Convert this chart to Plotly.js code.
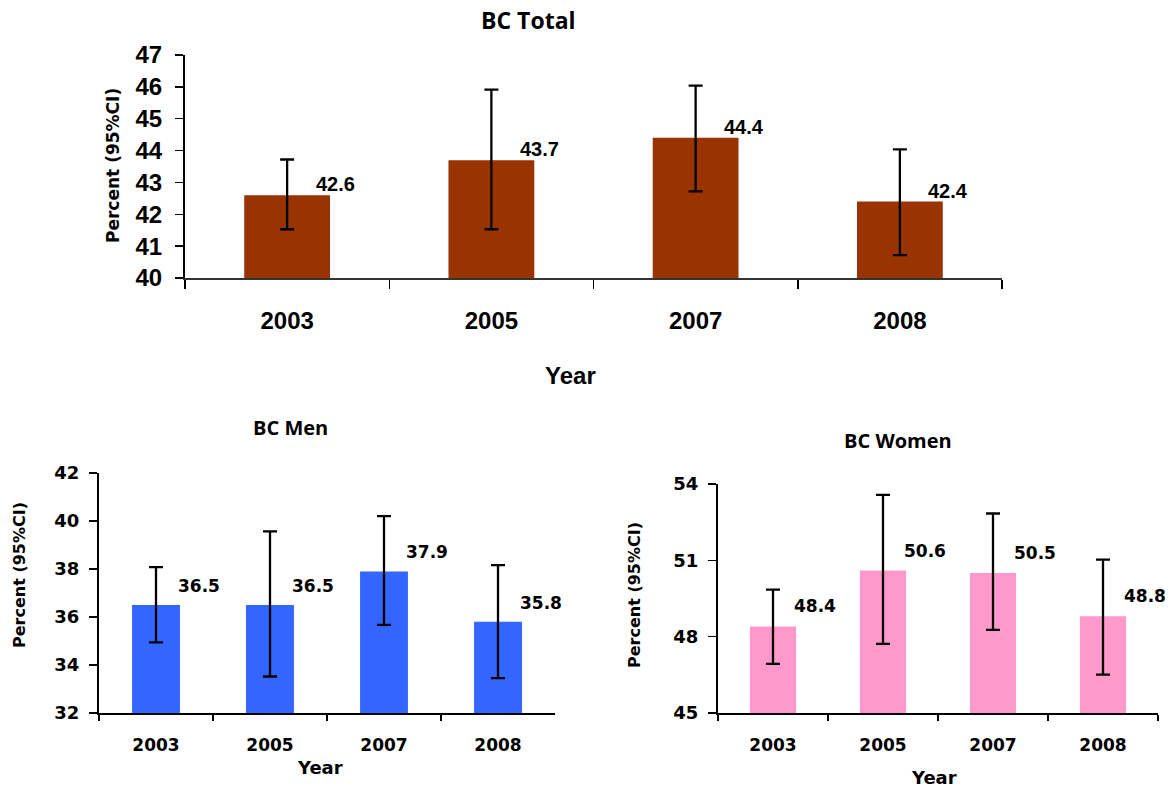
<!DOCTYPE html>
<html>
<head>
<meta charset="utf-8">
<script src="https://cdn.plot.ly/plotly-3.0.1.min.js"></script>
<style>html,body{margin:0;padding:0;background:#fff;}#chart{width:1170px;height:790px;}</style>
</head>
<body>
<div id="chart"></div>
<script>
// ---- data ----
const years = ["2003", "2005", "2007", "2008"];

const totalValues = [42.6, 43.7, 44.4, 42.4];
const totalUpper  = [43.72, 45.91, 46.04, 44.04];
const totalLower  = [41.53, 41.53, 42.72, 40.72];

const menValues = [36.5, 36.5, 37.9, 35.8];
const menUpper  = [38.08, 39.57, 40.20, 38.16];
const menLower  = [34.94, 33.52, 35.67, 33.45];

const womenValues = [48.4, 50.6, 50.5, 48.8];
const womenUpper  = [49.85, 53.57, 52.84, 51.03];
const womenLower  = [46.93, 47.72, 48.27, 46.51];

const titles = ["BC Total", "BC Men", "BC Women"];
const xTitle = "Year";
const yTitle = "Percent (95%CI)";

// ---- helpers ----
const W = 1170, H = 790;
const px = v => v / W;
const py = v => 1 - v / H;

function barTrace(vals, up, lo, color, xa, ya, capw) {
  return {
    type: "bar", x: years, y: vals, xaxis: xa, yaxis: ya,
    marker: {color: color, line: {width: 0}},
    hoverinfo: "x+y",
    error_y: {
      type: "data", symmetric: false,
      array: vals.map((v, i) => up[i] - v),
      arrayminus: vals.map((v, i) => v - lo[i]),
      color: "#000", thickness: 2.3, width: capw, visible: true
    }
  };
}

const data = [
  barTrace(totalValues, totalUpper, totalLower, "#993300", "x", "y", 7),
  barTrace(menValues, menUpper, menLower, "#3366FF", "x2", "y2", 7),
  barTrace(womenValues, womenUpper, womenLower, "#FF99CC", "x3", "y3", 7)
];

const FT = "Liberation Sans, Arial, sans-serif";
const FD = "DejaVu Sans, Verdana, sans-serif";
const FO = "Open Sans, sans-serif";

function xAxis(domain, anchor, font, size, standoff, ticklen, lineColor) {
  return {
    domain: domain, anchor: anchor, type: "category", range: [-0.5, 3.5],
    showgrid: false, zeroline: false, showline: true, linecolor: lineColor, linewidth: 2,
    ticks: "outside", tickson: "boundaries", ticklen: ticklen, tickwidth: 1.5, tickcolor: "#000",
    tickfont: {family: font, size: size, color: "#000", weight: "bold"},
    ticklabelstandoff: standoff, fixedrange: true
  };
}
function yAxis(domain, anchor, range, dtick, font, size, standoff) {
  return {
    domain: domain, anchor: anchor, range: range, dtick: dtick, tick0: range[0],
    showgrid: false, zeroline: false, showline: true, linecolor: "#000", linewidth: 2,
    ticks: "outside", ticklen: 8, tickwidth: 1.5, tickcolor: "#000",
    tickfont: {family: font, size: size, color: "#000", weight: "bold"},
    ticklabelstandoff: standoff, fixedrange: true
  };
}

const annotations = [];
function paperText(text, x, y, font, size, angle) {
  annotations.push({
    xref: "paper", yref: "paper", x: px(x), y: py(y), text: text, showarrow: false,
    xanchor: "center", yanchor: "middle", textangle: angle || 0,
    font: {family: font, size: size, color: "#000", weight: "bold"}
  });
}
function valueLabels(vals, xa, ya, font, size, xs, ys) {
  vals.forEach((v, i) => {
    annotations.push({
      xref: xa, yref: ya, x: i, y: v, text: v.toFixed(1), showarrow: false,
      xanchor: "center", yanchor: "middle", xshift: xs, yshift: ys,
      font: {family: font, size: size, color: "#000", weight: "bold"}
    });
  });
}

// titles & axis titles
paperText(titles[0], 528, 20, FO, 23);
paperText(xTitle, 570, 375, FT, 24);
paperText(yTitle, 113, 166, FD, 17, -90);

paperText(titles[1], 290, 427, FO, 20);
paperText(xTitle, 320, 767, FD, 18);
paperText(yTitle, 19, 575, FD, 16, -90);

paperText(titles[2], 898, 440, FO, 20);
paperText(xTitle, 934, 777, FD, 18);
paperText(yTitle, 634, 595, FD, 16, -90);

valueLabels(totalValues, "x", "y", FT, 20, 48, 11);
valueLabels(menValues, "x2", "y2", FD, 17, 43, 19);
valueLabels(womenValues, "x3", "y3", FD, 17, 42, 20);

const layout = {
  width: W, height: H, margin: {l: 0, r: 0, t: 0, b: 0},
  paper_bgcolor: "#fff", plot_bgcolor: "#fff", showlegend: false,
  bargap: 0.58,
  xaxis: xAxis([px(185), px(1002)], "y", FT, 24, 20, 9, "#333"),
  yaxis: yAxis([py(278), py(55)], "x", [40, 47], 1, FT, 24, 8),
  xaxis2: xAxis([px(99), px(555)], "y2", FD, 17, 16, 6, "#000"),
  yaxis2: yAxis([py(713), py(473)], "x2", [32, 42], 2, FD, 18, 6),
  xaxis3: xAxis([px(718), px(1158)], "y3", FD, 17, 16, 6, "#000"),
  yaxis3: yAxis([py(713), py(484)], "x3", [45, 54], 3, FD, 18, 6),
  annotations: annotations
};

Plotly.newPlot("chart", data, layout, {displayModeBar: false, staticPlot: true});
</script>
</body>
</html>
